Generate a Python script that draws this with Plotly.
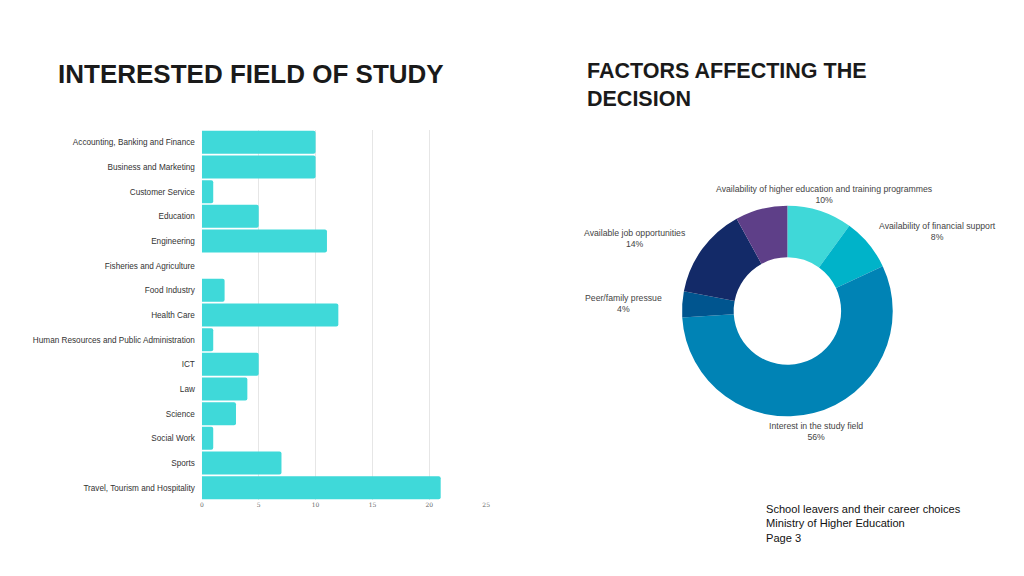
import plotly.graph_objects as go

fields = ["Accounting, Banking and Finance", "Business and Marketing", "Customer Service",
          "Education", "Engineering", "Fisheries and Agriculture", "Food Industry",
          "Health Care", "Human Resources and Public Administration", "ICT", "Law",
          "Science", "Social Work", "Sports", "Travel, Tourism and Hospitality"]
counts = [10, 10, 1, 5, 11, 0, 2, 12, 1, 5, 4, 3, 1, 7, 21]
x_ticks = [0, 5, 10, 15, 20, 25]

factors = ["Availability of higher education and training programmes",
           "Availability of financial support", "Interest in the study field",
           "Peer/family pressue", "Available job opportunities", "Other"]
shares = [10, 8, 56, 4, 14, 8]
factor_colors = ["#3fd8d8", "#00b3c9", "#0083b5", "#00558f", "#132a68", "#5e3f88"]
# label annotation positions (screen px) for the labelled slices
label_pos = {
    "Availability of higher education and training programmes": (827, 194),
    "Availability of financial support": (941, 232),
    "Interest in the study field": (819, 431),
    "Peer/family pressue": (625, 303),
    "Available job opportunities": (637, 238),
}

OFF = 8  # page body margin
W, H = 1024 - OFF, 576 - OFF


def px(p):
    return (p - OFF) / W


def py(p):
    return 1 - (p - OFF) / H


fig = go.Figure()

fig.add_trace(go.Bar(
    x=counts, y=fields, orientation="h",
    marker=dict(color="#3fd9d9", line=dict(width=0), cornerradius=2),
    xaxis="x", yaxis="y", showlegend=False, hoverinfo="x+y",
))

fig.add_trace(go.Pie(
    values=shares, labels=factors, sort=False, direction="clockwise", rotation=0,
    hole=0.51, marker=dict(colors=factor_colors, line=dict(width=0)),
    textinfo="none", showlegend=False,
    domain=dict(x=[px(684), px(896)], y=[py(417), py(205)]),
))

ann = [
    dict(text="<b>INTERESTED FIELD OF STUDY</b>", x=px(54), y=py(74), xanchor="left",
         yanchor="middle", showarrow=False, xref="paper", yref="paper",
         font=dict(family="Liberation Sans", size=26, color="#1a1a1a")),
    dict(text="<b>FACTORS AFFECTING THE<br>DECISION</b>", x=px(586), y=py(85),
         xanchor="left", yanchor="middle", align="left", showarrow=False,
         xref="paper", yref="paper",
         font=dict(family="Liberation Sans", size=21.5, color="#1a1a1a")),
    dict(text="School leavers and their career choices<br>Ministry of Higher Education<br>Page 3",
         x=px(766), y=py(523), xanchor="left", yanchor="middle", align="left",
         showarrow=False, xref="paper", yref="paper",
         font=dict(family="Liberation Sans", size=11.1, color="#111111")),
]
for name, val in zip(factors, shares):
    if name in label_pos:
        lx, ly = label_pos[name]
        ann.append(dict(text=f"{name}<br>{val}%", x=px(lx), y=py(ly),
                        xanchor="center", yanchor="middle", showarrow=False,
                        xref="paper", yref="paper",
                        font=dict(family="Liberation Sans", size=8.7, color="#444444")))

fig.update_layout(
    width=W, height=H, margin=dict(l=0, r=0, t=0, b=0),
    paper_bgcolor="white", plot_bgcolor="white",
    bargap=0.07,
    xaxis=dict(domain=[px(201), px(487)], range=[0, 25], tickvals=x_ticks,
               showgrid=True, gridcolor="#e6e6e6", gridwidth=1, zeroline=False,
               showline=False, ticks="",
               tickfont=dict(family="DejaVu Serif", size=6, color="#666666")),
    yaxis=dict(domain=[py(500), py(130)], autorange="reversed",
               showgrid=False, zeroline=False, ticks="", ticklabelstandoff=6,
               tickfont=dict(family="Liberation Sans", size=8.2, color="#333333")),
    annotations=ann,
)

fig.write_html("out.html")
